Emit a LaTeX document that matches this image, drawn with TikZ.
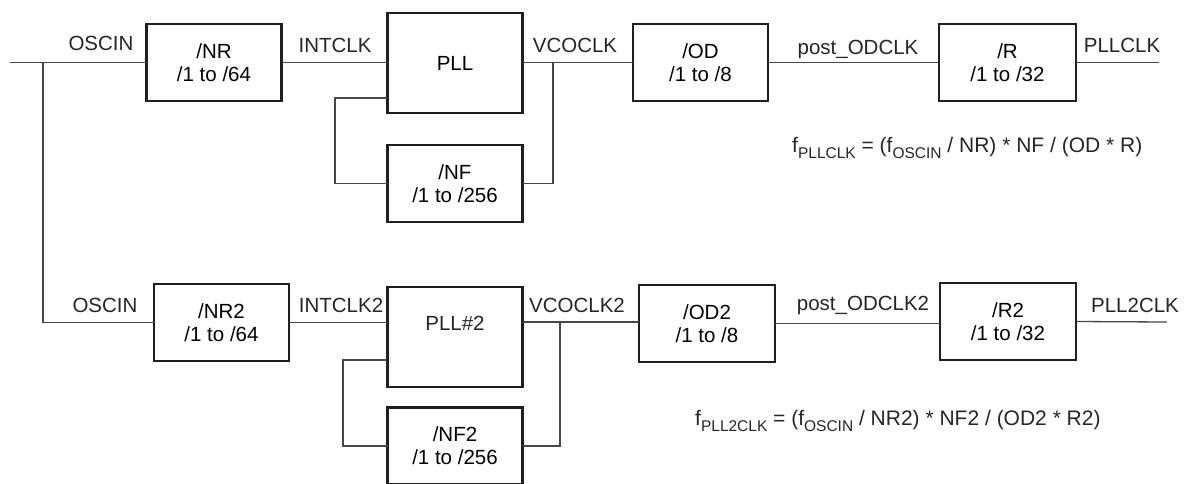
\documentclass[tikz,border=0pt]{standalone}
\usepackage{fontspec}
\setmainfont{Liberation Sans}
\begin{document}
\begin{tikzpicture}[x=1pt,y=-1pt,
  blk/.style={draw=black!88,line width=2.6pt,rectangle,inner sep=0pt,outer sep=0pt,
    minimum width=135pt,minimum height=77pt,align=center,
    font=\fontsize{20.5}{23}\selectfont},
  tall/.style={minimum height=100pt},
  wire/.style={draw=black!72,line width=1.3pt},
  lbl/.style={anchor=base,inner sep=0pt,font=\fontsize{20.5}{23}\selectfont,text=black!85},
  frm/.style={anchor=base west,inner sep=0pt,font=\fontsize{21}{24}\selectfont,text=black!85}
]
\clip (0,0) rectangle (1185,483);
\fill[white] (0,0) rectangle (1185,483);
% ---- top chain ----
\node[blk] (nr)  at (214,62.5) {/NR\\/1 to /64};
\node[blk,tall] (pll) at (455,63) {PLL};
\node[blk] (nf)  at (455,183.5) {/NF\\/1 to /256};
\node[blk] (od)  at (700.5,62.5) {/OD\\/1 to /8};
\node[blk,minimum width=137pt] (r) at (1007.5,62.5) {/R\\/1 to /32};
% ---- bottom chain ----
\node[blk] (nr2)  at (221.5,322.5) {/NR2\\/1 to /64};
\node[blk,tall] (pll2) at (455,337) {};
\node[lbl] (pll2t) at (455,330) {PLL\#2};
\node[blk] (nf2)  at (455,446) {/NF2\\/1 to /256};
\node[blk,minimum width=136pt] (od2) at (707,323.5) {/OD2\\/1 to /8};
\node[blk,minimum width=136pt] (r2)  at (1008,321.5) {/R2\\/1 to /32};
% ---- coordinates ----
\coordinate (in) at (10,62.5);
\coordinate (tap) at (43,62.5);
\coordinate (fbA) at (387,98);
\coordinate (fbL) at (335,98);
\coordinate (j1) at (553,62.5);
\coordinate (out1) at (1159,62.5);
\coordinate (fbB) at (387,360);
\coordinate (fbL2) at (343,360);
\coordinate (v2) at (523,322);
\coordinate (j2) at (560,322);
\coordinate (out2) at (1167,322);
% ---- wires ----
\draw[wire] (in) -- (nr.west);
\draw[wire] (tap) |- (nr2.west);
\draw[wire] (nr.east) -- (nr.east -| pll.west);
\draw[wire] (fbA) -- (fbL) |- (nf.west);
\draw[wire] (j1 -| pll.east) -- (j1 -| od.west);
\draw[wire] (j1) |- (nf.east);
\draw[wire] (od.east) -- (od.east -| r.west);
\draw[wire] (r.east) -- (out1);
\draw[wire] (nr2.east) -- (nr2.east -| pll2.west);
\draw[wire] (fbB) -- (fbL2) |- (nf2.west);
\draw[wire] (v2 -| pll2.east) -- (v2 -| od2.west);
\draw[wire] (j2) |- (nf2.east);
\draw[wire] (od2.east) -- (od2.east -| r2.west);
\draw[wire] (r2.east) -- (out2);
% ---- labels ----
\node[lbl] (l1) at (101,50) {OSCIN};
\node[lbl] (l2) at (335,52) {INTCLK};
\node[lbl] (l3) at (575,52) {VCOCLK};
\node[lbl] (l4) at (858,54) {post\_ODCLK};
\node[lbl] (l5) at (1122,52) {PLLCLK};
\node[lbl] (m1) at (105,312) {OSCIN};
\node[lbl] (m2) at (341,312) {INTCLK2};
\node[lbl] (m3) at (577,312) {VCOCLK2};
\node[lbl] (m4) at (863,310) {post\_ODCLK2};
\node[lbl] (m5) at (1135,312) {PLL2CLK};
% ---- formulas ----
\newcommand{\sbx}[1]{\raisebox{-6pt}{\fontsize{15.5}{16}\selectfont #1}}
\node[frm] (f1) at (792,152) {f\sbx{PLLCLK} = (f\sbx{OSCIN} / NR) * NF / (OD * R)};
\node[frm] (f2) at (695,425) {f\sbx{PLL2CLK} = (f\sbx{OSCIN} / NR2) * NF2 / (OD2 * R2)};
\end{tikzpicture}
\end{document}
